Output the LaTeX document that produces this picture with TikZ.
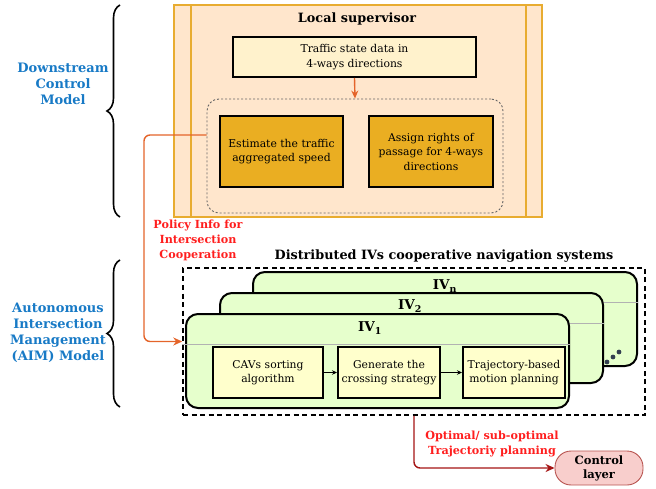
\documentclass[tikz,border=0pt]{standalone}
\usepackage{fontspec}
\setmainfont{DejaVu Serif}
\usepackage{xcolor}
\definecolor{peachfill}{RGB}{255,230,204}
\definecolor{peachline}{RGB}{232,172,48}
\definecolor{creamfill}{RGB}{255,242,204}
\definecolor{goldfill}{RGB}{234,174,34}
\definecolor{ivgreen}{RGB}{230,255,204}
\definecolor{paleyellow}{RGB}{255,255,204}
\definecolor{modelblue}{RGB}{24,122,198}
\definecolor{infored}{RGB}{255,30,30}
\definecolor{policyorange}{RGB}{228,100,42}
\definecolor{darkred}{RGB}{165,20,20}
\definecolor{ctrlfill}{RGB}{248,206,204}
\definecolor{ctrlline}{RGB}{184,84,80}
\definecolor{dotnavy}{RGB}{50,62,80}
\usepackage{tikz}
\usetikzlibrary{calc,positioning,arrows.meta,decorations.pathreplacing}

\begin{document}
\begin{tikzpicture}[x=1pt,y=-1pt,
    every node/.style={align=center,font=\fontsize{10.8}{14.5}\selectfont},
    darkbox/.style={draw=black,line width=2pt,inner sep=2pt},
    ivbox/.style={draw=black,line width=2pt,fill=ivgreen,rounded corners=12pt},
    sepline/.style={draw=black!30,line width=0.9pt},
    headtext/.style={font=\bfseries\fontsize{12.8}{15}\selectfont},
    modeltext/.style={text=modelblue,font=\bfseries\fontsize{13}{16}\selectfont},
    redtext/.style={text=infored,font=\bfseries\fontsize{11.2}{15}\selectfont},
    bracket/.style={decorate,decoration={brace,amplitude=13pt},line width=1.6pt}]
    % Canvas
    \useasboundingbox (0,0) rectangle (656,489);
    % Local supervisor
    \node[draw=peachline,line width=1.7pt,fill=peachfill,minimum width=368pt,
          minimum height=212pt] (sup) at (358,111) {};
    \draw[peachline,line width=1.7pt] ([xshift=18pt]sup.north west) -- ([xshift=18pt]sup.south west);
    \draw[peachline,line width=1.7pt] ([xshift=-17pt]sup.north east) -- ([xshift=-17pt]sup.south east);
    \node[headtext] (suptitle) at (357,19) {Local supervisor};
    \node[darkbox,fill=creamfill,minimum width=243pt,minimum height=40pt] (traffic) at (354.5,57)
        {Traffic state data in\\4-ways directions};
    \node[draw=black!60,dash pattern=on 2pt off 2pt,line width=0.9pt,rounded corners=12pt,
          minimum width=296pt,minimum height=114pt] (group) at (355,156) {};
    \node[darkbox,fill=goldfill,minimum width=123pt,minimum height=71pt] (estimate) at (281.5,151.5)
        {Estimate the traffic\\aggregated speed};
    \node[darkbox,fill=goldfill,minimum width=124pt,minimum height=71pt] (assign) at (431,151.5)
        {Assign rights of\\passage for 4-ways\\directions};
    \draw[policyorange,line width=1.4pt,-{Stealth[length=8pt,width=7pt]}] (traffic.south) -- (group.north);
    % Distributed IVs
    \node[draw=black,dash pattern=on 5pt off 3.5pt,line width=1.5pt,minimum width=462pt,
          minimum height=147pt] (ivsys) at (414,341.5) {};
    \node[headtext] (ivsystitle) at (444,256) {Distributed IVs cooperative navigation systems};
    \node[ivbox,minimum width=384pt,minimum height=94pt] (ivn) at (445,319) {};
    \draw[sepline] (ivn.west |- 0,302) -- (ivn.east |- 0,302);
    \node[headtext,font=\bfseries\fontsize{13.5}{15}\selectfont] (ivnlabel) at (445,286) {IV\textsubscript{n}};
    \fill[dotnavy] (607,362) circle (2.4) (613,357) circle (2.4) (619,352) circle (2.4);
    \node[ivbox,minimum width=383pt,minimum height=90pt] (ivtwo) at (411.5,338) {};
    \draw[sepline] (ivtwo.west |- 0,323) -- (ivtwo.east |- 0,323);
    \node[headtext,font=\bfseries\fontsize{13.5}{15}\selectfont] (ivtwolabel) at (410,306) {IV\textsubscript{2}};
    \node[ivbox,minimum width=383pt,minimum height=94pt] (ivone) at (377.5,361) {};
    \draw[sepline] (ivsys.west |- 0,344) -- (ivone.east |- 0,344);
    \node[headtext,font=\bfseries\fontsize{13.5}{15}\selectfont] (ivonelabel) at (370,328) {IV\textsubscript{1}};
    \node[darkbox,fill=paleyellow,minimum width=110pt,minimum height=51pt] (cavs) at (268,372.5)
        {CAVs sorting\\algorithm};
    \node[darkbox,fill=paleyellow,minimum width=102pt,minimum height=51pt] (gen) at (389,372.5)
        {Generate the\\crossing strategy};
    \node[darkbox,fill=paleyellow,minimum width=102pt,minimum height=51pt] (traj) at (514,372.5)
        {Trajectory-based\\motion planning};
    \draw[line width=0.8pt,-{Stealth[length=5pt,width=4.5pt]}] (cavs) -- (gen);
    \draw[line width=0.8pt,-{Stealth[length=5pt,width=4.5pt]}] (gen) -- (traj);
    % Control layer
    \node[draw=ctrlline,fill=ctrlfill,line width=0.9pt,rounded corners=16pt,minimum width=88pt,
          minimum height=34pt,font=\bfseries\fontsize{11.5}{14}\selectfont] (ctrl) at (599,468) {Control\\layer};
    % Connectors
    \draw[policyorange,line width=1.4pt,rounded corners=6pt,-{Stealth[length=9pt,width=8pt]}]
        ([yshift=21pt]group.west) -- (144,135) |- (ivsys.west);
    \draw[darkred,line width=1.4pt,rounded corners=6pt,-{Stealth[length=9pt,width=8pt]}]
        (ivsys.south) |- (ctrl.west);
    % Labels
    \node[redtext] (policy) at (198,240) {Policy Info for\\Intersection\\Cooperation};
    \node[redtext] (optimal) at (492,443.5) {Optimal/ sub-optimal\\Trajectoriy planning};
    \node[modeltext] (downstream) at (63,83.5) {Downstream\\Control\\Model};
    \node[modeltext] (aim) at (58,333) {Autonomous\\Intersection\\Management\\(AIM) Model};
    % Braces
    \draw[bracket] (120,217) -- (120,5);
    \draw[bracket] (120,407) -- (120,260);
\end{tikzpicture}
\end{document}
